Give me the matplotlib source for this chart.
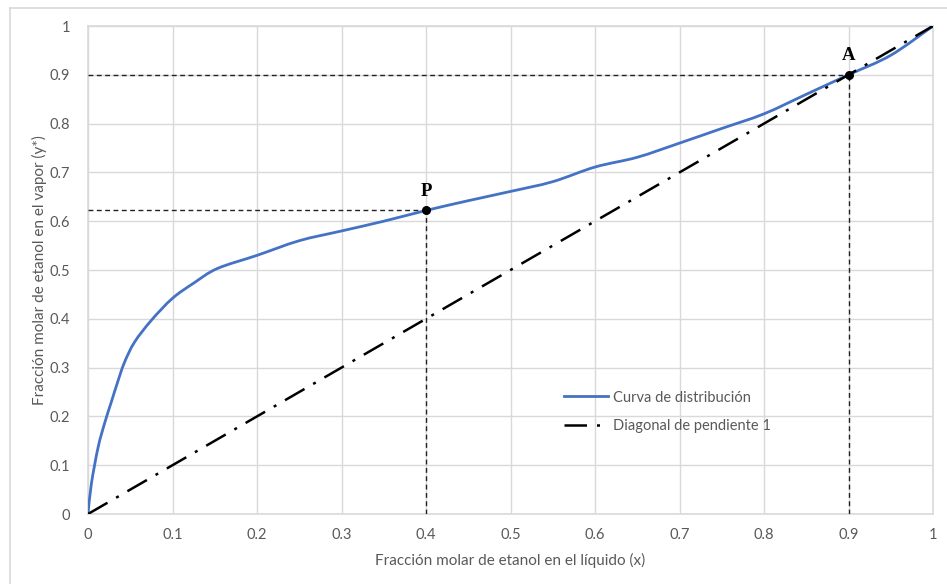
import matplotlib
matplotlib.use("Agg")
import matplotlib.pyplot as plt
from matplotlib.lines import Line2D
from matplotlib.path import Path
from matplotlib.patches import PathPatch
import numpy as np

# Liquid / vapour equilibrium data, ethanol-water
x_liq = [0.0, 0.004, 0.012, 0.02, 0.0275, 0.035, 0.043, 0.055, 0.075, 0.10,
         0.125, 0.153, 0.20, 0.25, 0.30, 0.35, 0.40, 0.45, 0.50, 0.55, 0.60,
         0.65, 0.70, 0.75, 0.80, 0.85, 0.90, 0.95, 1.0]
y_vap = [0.0, 0.062, 0.137, 0.188, 0.229, 0.270, 0.310, 0.352, 0.397, 0.442,
         0.473, 0.503, 0.530, 0.560, 0.580, 0.600, 0.622, 0.642, 0.661, 0.681, 0.711,
         0.731, 0.760, 0.790, 0.820, 0.860, 0.900, 0.940, 1.0]

diag = [0.0, 1.0]

point_labels = ["P", "A"]
point_x = [0.4, 0.9]
point_y = [0.622, 0.9]

ticks = [0, 0.1, 0.2, 0.3, 0.4, 0.5, 0.6, 0.7, 0.8, 0.9, 1]
tick_labels = ["0", "0.1", "0.2", "0.3", "0.4", "0.5", "0.6", "0.7", "0.8", "0.9", "1"]

plt.rcParams['font.family'] = ['Lato', 'DejaVu Sans']
text_gray = "#595959"
grid_gray = "#d9d9d9"
curve_blue = "#4472C4"


def smooth_path(xs, ys):
    """Cubic Bezier path through the points (Catmull-Rom style tangents)."""
    pts = np.column_stack([xs, ys])
    n = len(pts)
    verts = [pts[0]]
    codes = [Path.MOVETO]
    for i in range(n - 1):
        p0 = pts[max(i - 1, 0)]
        p1 = pts[i]
        p2 = pts[i + 1]
        p3 = pts[min(i + 2, n - 1)]
        c1 = p1 + (p2 - p0) / 6.0
        c2 = p2 - (p3 - p1) / 6.0
        verts += [c1, c2, p2]
        codes += [Path.CURVE4] * 3
    return Path(verts, codes)


fig = plt.figure(figsize=(9.47, 5.84), dpi=100)
ax = fig.add_axes([88 / 947, 70 / 584, 845 / 947, 488 / 584])

# outer chart border (top and left edges visible)
fig.add_artist(Line2D([9.5 / 947, 9.5 / 947], [0, 1 - 8 / 584], color=grid_gray, lw=1.2,
                      transform=fig.transFigure))
fig.add_artist(Line2D([9.5 / 947, 1], [1 - 8 / 584, 1 - 8 / 584], color=grid_gray, lw=1.2,
                      transform=fig.transFigure))

ax.set_xlim(0, 1)
ax.set_ylim(0, 1)
ax.set_xticks(ticks)
ax.set_yticks(ticks)
ax.set_xticklabels(tick_labels)
ax.set_yticklabels(tick_labels)
ax.tick_params(length=0, labelsize=10.5, labelcolor=text_gray)
ax.tick_params(axis='x', pad=10)
ax.tick_params(axis='y', pad=13)
ax.grid(True, color=grid_gray, lw=1)
ax.set_axisbelow(True)
for s in ax.spines.values():
    s.set_color(grid_gray)
    s.set_linewidth(1.2)

# reference dashed guides
for px, py in zip(point_x, point_y):
    ax.plot([0, px], [py, py], color="#222222", lw=1, ls=(0, (3.5, 2.5)), zorder=3)
    ax.plot([px, px], [0, py], color="#222222", lw=1, ls=(0, (3.5, 2.5)), zorder=3)

# smoothed distribution curve
ax.add_patch(PathPatch(smooth_path(x_liq, y_vap), facecolor="none",
                       edgecolor=curve_blue, lw=2, zorder=4, capstyle="round",
                       joinstyle="round"))
ax.plot([], [], color=curve_blue, lw=2, label="Curva de distribución")
ax.plot(diag, diag, color="black", lw=1.8, ls=(0, (9, 4, 1.2, 4)),
        label="Diagonal de pendiente 1", zorder=5)

ax.scatter(point_x, point_y, s=30, color="black", zorder=6)
for lab, px, py in zip(point_labels, point_x, point_y):
    ax.text(px, py + 0.022, lab, ha="center", va="bottom", fontsize=13.5,
            fontweight="bold", family="Liberation Serif", color="black", zorder=7)

ax.set_xlabel("Fracción molar de etanol en el líquido (x)", fontsize=11,
              color=text_gray, labelpad=8)
ax.set_ylabel("Fracción molar de etanol en el vapor (y*)", fontsize=11,
              color=text_gray, labelpad=2)

ax.legend(loc="upper left", bbox_to_anchor=(0.557, 0.265), frameon=False,
          fontsize=10.5, labelcolor=text_gray, handlelength=3.0, handletextpad=0.3,
          labelspacing=1.0, borderaxespad=0)

fig.savefig("out.png", dpi=100, facecolor="white")
